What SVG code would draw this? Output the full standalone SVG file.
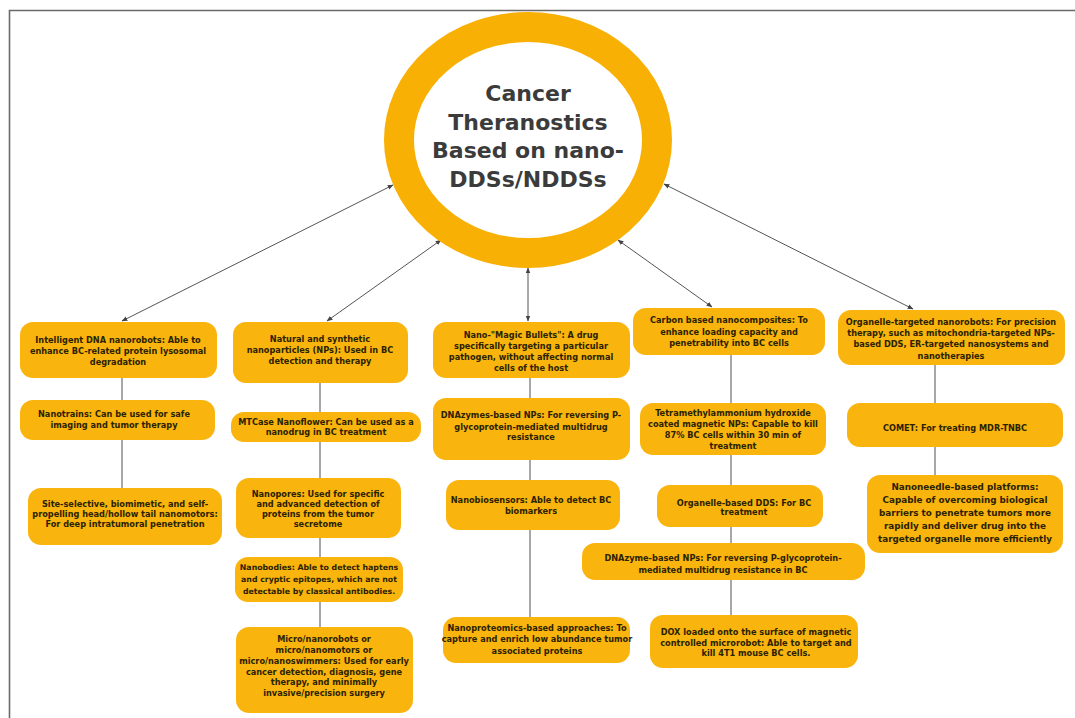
<svg xmlns="http://www.w3.org/2000/svg" width="1075" height="718" viewBox="0 0 1075 718">
<style>
.box{fill:#F9B40E;}
.t{font-family:"DejaVu Sans","Liberation Sans",sans-serif;font-weight:bold;font-size:8.2px;fill:#2b2200;text-anchor:middle;}
.tb{font-size:8.8px;}
.ts{font-size:7.8px;}
.title{font-family:"DejaVu Sans","Liberation Sans",sans-serif;font-weight:bold;font-size:22px;fill:#3b3b3b;text-anchor:middle;}
.link{stroke:#8a8a8a;stroke-width:1.5;fill:none;}
.arr{stroke:#555;stroke-width:1;fill:none;marker-end:url(#ah);marker-start:url(#ah);}
</style>
<defs>
<marker id="ah" viewBox="0 0 10 10" refX="9" refY="5" markerWidth="6" markerHeight="6" orient="auto-start-reverse" markerUnits="userSpaceOnUse">
<path d="M0,1 L10,5 L0,9 z" fill="#444"/>
</marker>
</defs>
<rect x="0" y="0" width="1075" height="718" fill="#ffffff"/>
<g id="frame">
<path d="M9.5,718 L9.5,10.5 L1075,10.5" stroke="#6a6a6a" stroke-width="1.6" fill="none"/>
</g>
<g id="connectors">
<line class="arr" x1="122" y1="321" x2="393" y2="185"/>
<line class="arr" x1="327" y1="321" x2="441" y2="240"/>
<line class="arr" x1="528" y1="321" x2="528" y2="268"/>
<line class="arr" x1="712" y1="307" x2="618" y2="240"/>
<line class="arr" x1="913" y1="309" x2="664" y2="184"/>
<line class="link" x1="122" y1="378" x2="122" y2="400"/>
<line class="link" x1="122" y1="440" x2="122" y2="488"/>
<line class="link" x1="320" y1="383" x2="320" y2="412"/>
<line class="link" x1="320" y1="442" x2="320" y2="478"/>
<line class="link" x1="320" y1="538" x2="320" y2="557"/>
<line class="link" x1="320" y1="602" x2="320" y2="627"/>
<line class="link" x1="530" y1="378" x2="530" y2="398"/>
<line class="link" x1="530" y1="460" x2="530" y2="480"/>
<line class="link" x1="530" y1="530" x2="530" y2="617"/>
<line class="link" x1="731" y1="355" x2="731" y2="403"/>
<line class="link" x1="731" y1="455" x2="731" y2="485"/>
<line class="link" x1="731" y1="527" x2="731" y2="543"/>
<line class="link" x1="731" y1="580" x2="731" y2="615"/>
<line class="link" x1="935" y1="365" x2="935" y2="403"/>
<line class="link" x1="935" y1="447" x2="935" y2="475"/>
</g>
<g id="center">
<ellipse cx="528" cy="140" rx="129" ry="113" fill="#ffffff" stroke="#F8B005" stroke-width="30"/>
<text class="title" x="528" y="101">Cancer</text>
<text class="title" x="528" y="130">Theranostics</text>
<text class="title" x="528" y="158">Based on nano-</text>
<text class="title" x="528" y="187">DDSs/NDDSs</text>
</g>
<g id="n1a"><rect class="box" x="20" y="322" width="197" height="56" rx="13"/>
<text class="t" x="118" y="343">Intelligent DNA nanorobots: Able to</text>
<text class="t" x="118" y="354">enhance BC-related protein lysosomal</text>
<text class="t" x="118" y="365">degradation</text></g>
<g id="n1b"><rect class="box" x="20" y="400" width="195" height="40" rx="13"/>
<text class="t" x="114" y="417">Nanotrains: Can be used for safe</text>
<text class="t" x="114" y="428">imaging and tumor therapy</text></g>
<g id="n1c"><rect class="box" x="28" y="488" width="194" height="57" rx="13"/>
<text class="t" x="125" y="507">Site-selective, biomimetic, and self-</text>
<text class="t" x="125" y="517">propelling head/hollow tail nanomotors:</text>
<text class="t" x="125" y="527">For deep intratumoral penetration</text></g>
<g id="n2a"><rect class="box" x="233" y="322" width="175" height="61" rx="13"/>
<text class="t" x="320" y="342">Natural and synthetic</text>
<text class="t" x="320" y="353">nanoparticles (NPs): Used in BC</text>
<text class="t" x="320" y="364">detection and therapy</text></g>
<g id="n2b"><rect class="box" x="231" y="412" width="190" height="30" rx="13"/>
<text class="t" x="326" y="425">MTCase Nanoflower: Can be used as a</text>
<text class="t" x="326" y="435">nanodrug in BC treatment</text></g>
<g id="n2c"><rect class="box" x="236" y="478" width="165" height="60" rx="13"/>
<text class="t" x="318" y="497">Nanopores: Used for specific</text>
<text class="t" x="318" y="507">and advanced detection of</text>
<text class="t" x="318" y="517">proteins from the tumor</text>
<text class="t" x="318" y="527">secretome</text></g>
<g id="n2d"><rect class="box" x="235" y="557" width="168" height="45" rx="13"/>
<text class="t ts" x="319" y="570">Nanobodies: Able to detect haptens</text>
<text class="t ts" x="319" y="582">and cryptic epitopes, which are not</text>
<text class="t ts" x="319" y="594">detectable by classical antibodies.</text></g>
<g id="n2e"><rect class="box" x="236" y="627" width="177" height="86" rx="13"/>
<text class="t" x="324" y="642">Micro/nanorobots or</text>
<text class="t" x="324" y="653">micro/nanomotors or</text>
<text class="t" x="324" y="664">micro/nanoswimmers: Used for early</text>
<text class="t" x="324" y="675">cancer detection, diagnosis, gene</text>
<text class="t" x="324" y="685">therapy, and minimally</text>
<text class="t" x="324" y="696">invasive/precision surgery</text></g>
<g id="n3a"><rect class="box" x="433" y="322" width="197" height="56" rx="13"/>
<text class="t" x="531" y="338">Nano-"Magic Bullets": A drug</text>
<text class="t" x="531" y="349">specifically targeting a particular</text>
<text class="t" x="531" y="360">pathogen, without affecting normal</text>
<text class="t" x="531" y="371">cells of the host</text></g>
<g id="n3b"><rect class="box" x="433" y="398" width="197" height="62" rx="13"/>
<text class="t" x="531" y="418">DNAzymes-based NPs: For reversing P-</text>
<text class="t" x="531" y="430">glycoprotein-mediated multidrug</text>
<text class="t" x="531" y="440">resistance</text></g>
<g id="n3c"><rect class="box" x="446" y="480" width="174" height="50" rx="13"/>
<text class="t" x="531" y="503">Nanobiosensors: Able to detect BC</text>
<text class="t" x="531" y="514">biomarkers</text></g>
<g id="n3d"><rect class="box" x="443" y="617" width="187" height="46" rx="13"/>
<text class="t" x="537" y="631">Nanoproteomics-based approaches: To</text>
<text class="t" x="537" y="642">capture and enrich low abundance tumor</text>
<text class="t" x="537" y="654">associated proteins</text></g>
<g id="n4a"><rect class="box" x="633" y="308" width="192" height="47" rx="13"/>
<text class="t" x="729" y="323">Carbon based nanocomposites: To</text>
<text class="t" x="729" y="335">enhance loading capacity and</text>
<text class="t" x="729" y="346">penetrability into BC cells</text></g>
<g id="n4b"><rect class="box" x="640" y="403" width="186" height="52" rx="13"/>
<text class="t" x="733" y="416">Tetramethylammonium hydroxide</text>
<text class="t" x="733" y="427">coated magnetic NPs: Capable to kill</text>
<text class="t" x="733" y="438">87% BC cells within 30 min of</text>
<text class="t" x="733" y="449">treatment</text></g>
<g id="n4c"><rect class="box" x="657" y="485" width="166" height="42" rx="13"/>
<text class="t" x="744" y="506">Organelle-based DDS: For BC</text>
<text class="t" x="744" y="515">treatment</text></g>
<g id="n4d"><rect class="box" x="582" y="543" width="283" height="37" rx="13"/>
<text class="t" x="723" y="561">DNAzyme-based NPs: For reversing P-glycoprotein-</text>
<text class="t" x="723" y="573">mediated multidrug resistance in BC</text></g>
<g id="n4e"><rect class="box" x="650" y="615" width="208" height="53" rx="13"/>
<text class="t" x="756" y="635">DOX loaded onto the surface of magnetic</text>
<text class="t" x="756" y="646">controlled microrobot: Able to target and</text>
<text class="t" x="756" y="656">kill 4T1 mouse BC cells.</text></g>
<g id="n5a"><rect class="box" x="838" y="310" width="227" height="55" rx="13"/>
<text class="t" x="951" y="325">Organelle-targeted nanorobots: For precision</text>
<text class="t" x="951" y="336">therapy, such as mitochondria-targeted NPs-</text>
<text class="t" x="951" y="347">based DDS, ER-targeted nanosystems and</text>
<text class="t" x="951" y="359">nanotherapies</text></g>
<g id="n5b"><rect class="box" x="847" y="403" width="216" height="44" rx="13"/>
<text class="t" x="955" y="431">COMET: For treating MDR-TNBC</text></g>
<g id="n5c"><rect class="box" x="867" y="475" width="196" height="78" rx="13"/>
<text class="t tb" x="965" y="490">Nanoneedle-based platforms:</text>
<text class="t tb" x="965" y="503">Capable of overcoming biological</text>
<text class="t tb" x="965" y="516">barriers to penetrate tumors more</text>
<text class="t tb" x="965" y="529">rapidly and deliver drug into the</text>
<text class="t tb" x="965" y="542">targeted organelle more efficiently</text></g>
</svg>
